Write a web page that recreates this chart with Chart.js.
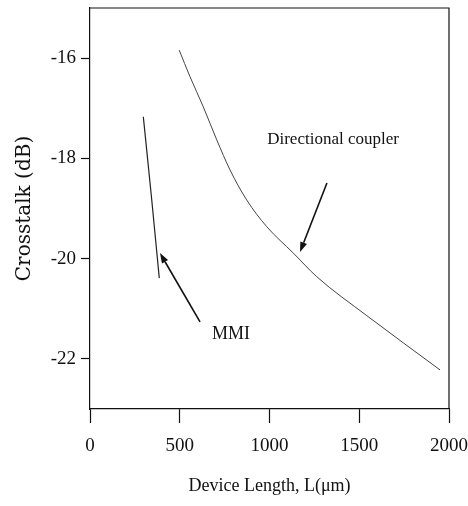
<!DOCTYPE html>
<html>
<head>
<meta charset="utf-8">
<title>Crosstalk vs device length</title>
<script src="https://cdn.jsdelivr.net/npm/chart.js@4.4.0/dist/chart.umd.min.js"></script>
<style>
  html, body { margin: 0; padding: 0; background: #fff; }
  canvas { display: block; }
</style>
</head>
<body>
<canvas id="crosstalkChart" width="468" height="506"></canvas>
<script>
// Device length (um) and crosstalk (dB)
const couplerLength = [497, 557, 631, 706, 780, 873, 984, 1133, 1263, 1543, 1950]
const couplerCrosstalk = [-15.84, -16.37, -16.97, -17.63, -18.23, -18.83, -19.36, -19.89, -20.36, -21.14, -22.22]
const mmiLength = [297, 344, 386]
const mmiCrosstalk = [-17.17, -18.83, -20.39]

const xTicks = [0, 500, 1000, 1500, 2000]
const yTicks = [-16, -18, -20, -22]

// Callout labels, anchored in axis units
const noteText = ['Directional coupler', 'MMI']
const noteX = [1354, 785]
const noteY = [-17.63, -21.5]

// Callout arrows (tail -> head), axis units
const arrowFromX = [1320, 613]
const arrowFromY = [-18.49, -21.26]
const arrowToX = [1170, 390]
const arrowToY = [-19.87, -19.89]

const INK = '#111'
const SERIF = '"Liberation Serif", "Times New Roman", serif'

const frameAndNotes = {
  id: 'frameAndNotes',
  afterDatasetsDraw(chart) {
    const { ctx, chartArea, scales } = chart
    const xs = scales.x
    const ys = scales.y

    ctx.save()
    ctx.strokeStyle = INK
    ctx.lineWidth = 1.2

    // top and right edges of the plot box
    ctx.beginPath()
    ctx.moveTo(chartArea.left, chartArea.top)
    ctx.lineTo(chartArea.right, chartArea.top)
    ctx.lineTo(chartArea.right, chartArea.bottom)
    ctx.stroke()

    ctx.fillStyle = INK
    ctx.textAlign = 'center'
    ctx.textBaseline = 'middle'
    noteText.forEach((text, i) => {
      ctx.font = (i === 0 ? '17px ' : '18px ') + SERIF
      ctx.fillText(text, xs.getPixelForValue(noteX[i]), ys.getPixelForValue(noteY[i]))
    })

    // arrows with filled heads
    arrowFromX.forEach((_, i) => {
      const x0 = xs.getPixelForValue(arrowFromX[i])
      const y0 = ys.getPixelForValue(arrowFromY[i])
      const x1 = xs.getPixelForValue(arrowToX[i])
      const y1 = ys.getPixelForValue(arrowToY[i])
      const ang = Math.atan2(y1 - y0, x1 - x0)
      const headLen = 10
      const headHalf = 3.5
      const bx = x1 - headLen * Math.cos(ang)
      const by = y1 - headLen * Math.sin(ang)

      ctx.lineWidth = 1.6
      ctx.beginPath()
      ctx.moveTo(x0, y0)
      ctx.lineTo(bx, by)
      ctx.stroke()

      ctx.beginPath()
      ctx.moveTo(x1, y1)
      ctx.lineTo(bx + headHalf * Math.sin(ang), by - headHalf * Math.cos(ang))
      ctx.lineTo(bx - headHalf * Math.sin(ang), by + headHalf * Math.cos(ang))
      ctx.closePath()
      ctx.fill()
    })

    ctx.restore()
  }
}

const toPoints = (xsArr, ysArr) => xsArr.map((v, i) => ({ x: v, y: ysArr[i] }))

// keep the plot box where the figure has it, regardless of label overhang
const noOverhang = scale => {
  scale.paddingLeft = 0
  scale.paddingRight = 0
  scale.paddingTop = 0
  scale.paddingBottom = 0
}

new Chart(document.getElementById('crosstalkChart'), {
  type: 'line',
  data: {
    datasets: [
      {
        label: 'Directional coupler',
        data: toPoints(couplerLength, couplerCrosstalk),
        borderColor: '#444',
        borderWidth: 1,
        pointRadius: 0,
        cubicInterpolationMode: 'monotone',
        fill: false
      },
      {
        label: 'MMI',
        data: toPoints(mmiLength, mmiCrosstalk),
        borderColor: '#222',
        borderWidth: 1.2,
        pointRadius: 0,
        cubicInterpolationMode: 'monotone',
        fill: false
      }
    ]
  },
  options: {
    responsive: false,
    animation: false,
    layout: { padding: { top: 8, right: 19, left: 0, bottom: 0 } },
    plugins: {
      legend: { display: false },
      tooltip: { enabled: false }
    },
    scales: {
      x: {
        type: 'linear',
        min: 0,
        max: 2000,
        afterBuildTicks: scale => { scale.ticks = xTicks.map(v => ({ value: v })) },
        afterFit: scale => { scale.height = 97; noOverhang(scale) },
        grid: { drawOnChartArea: false, tickLength: 14, tickColor: INK, tickWidth: 1.2 },
        border: { color: INK, width: 1.2 },
        ticks: {
          color: INK,
          padding: 12,
          maxRotation: 0,
          font: { family: SERIF, size: 19 },
          callback: value => String(value)
        },
        title: {
          display: true,
          text: 'Device Length, L(μm)',
          color: INK,
          font: { family: SERIF, size: 18 },
          padding: { top: 0, bottom: 9 }
        }
      },
      y: {
        type: 'linear',
        min: -23,
        max: -15,
        afterBuildTicks: scale => { scale.ticks = yTicks.map(v => ({ value: v })) },
        afterFit: scale => { scale.width = 90; noOverhang(scale) },
        grid: { drawOnChartArea: false, tickLength: 9, tickColor: INK, tickWidth: 1.2 },
        border: { color: INK, width: 1.2 },
        ticks: {
          color: INK,
          padding: 5,
          font: { family: SERIF, size: 19 },
          callback: value => String(value)
        },
        title: {
          display: true,
          text: 'Crosstalk (dB)',
          color: INK,
          font: { family: '"DejaVu Serif", serif', size: 20 },
          padding: { top: 13, bottom: 0 }
        }
      }
    }
  },
  plugins: [frameAndNotes]
})
</script>
</body>
</html>
